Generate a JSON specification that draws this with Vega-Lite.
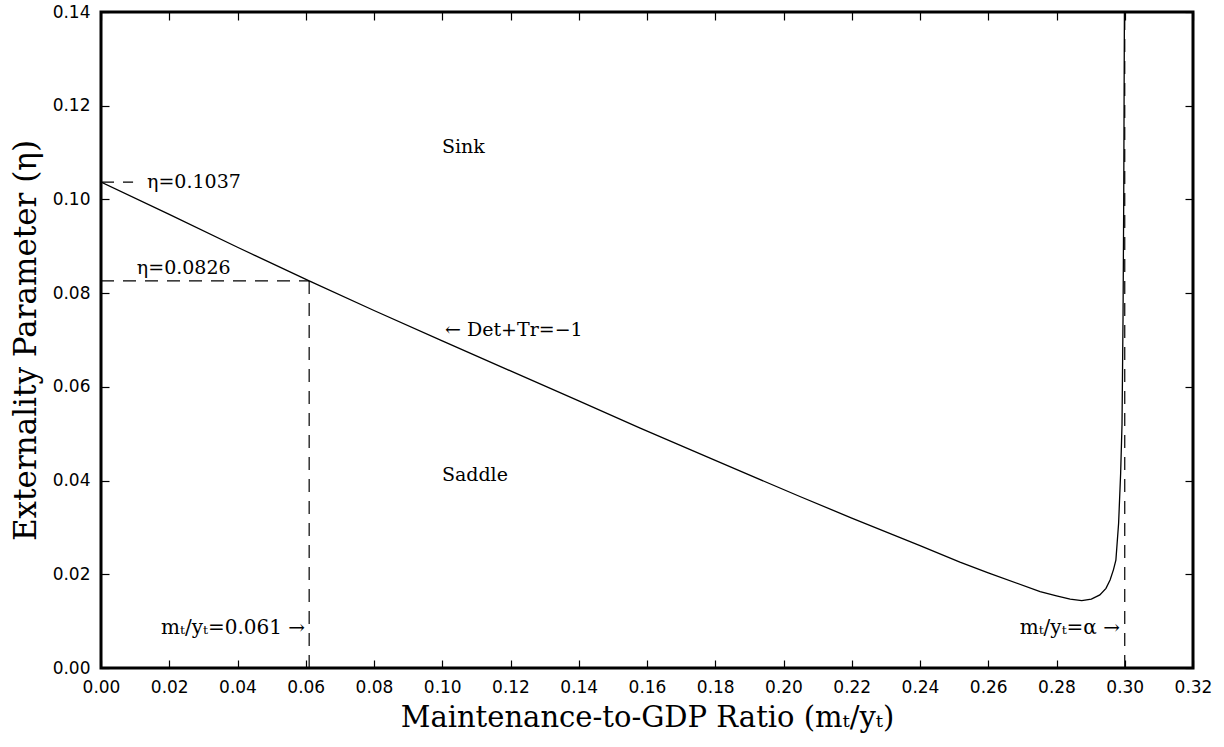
{
  "$schema": "https://vega.github.io/schema/vega-lite/v6.json",
  "width": 1092,
  "height": 656,
  "autosize": {"type": "none"},
  "padding": {"left": 101, "top": 12, "right": 31, "bottom": 79},
  "background": "white",
  "config": {
    "view": {"stroke": "black", "strokeWidth": 3},
    "axis": {
      "grid": false,
      "domain": false,
      "ticks": true,
      "tickColor": "black",
      "tickWidth": 1.2,
      "tickSize": -8,
      "labelFont": "DejaVu Sans",
      "labelFontSize": 17,
      "labelColor": "black",
      "titleFont": "DejaVu Serif",
      "titleFontWeight": "normal",
      "titleColor": "black",
      "titleFontSize": 29
    }
  },
  "datasets": {
    "curve": [
      {"ratio": 0.0, "eta": 0.1037},
      {"ratio": 0.02, "eta": 0.0968},
      {"ratio": 0.04, "eta": 0.0898},
      {"ratio": 0.061, "eta": 0.0826},
      {"ratio": 0.08, "eta": 0.0763},
      {"ratio": 0.10, "eta": 0.0698},
      {"ratio": 0.12, "eta": 0.0634},
      {"ratio": 0.14, "eta": 0.0570},
      {"ratio": 0.158, "eta": 0.0512},
      {"ratio": 0.18, "eta": 0.0443},
      {"ratio": 0.2048, "eta": 0.0366},
      {"ratio": 0.22, "eta": 0.0320},
      {"ratio": 0.24, "eta": 0.0261},
      {"ratio": 0.2517, "eta": 0.0226},
      {"ratio": 0.26, "eta": 0.0203},
      {"ratio": 0.2752, "eta": 0.0163},
      {"ratio": 0.28, "eta": 0.0154},
      {"ratio": 0.284, "eta": 0.0147},
      {"ratio": 0.2874, "eta": 0.0144},
      {"ratio": 0.2902, "eta": 0.0147},
      {"ratio": 0.2927, "eta": 0.0156},
      {"ratio": 0.2945, "eta": 0.0170},
      {"ratio": 0.2957, "eta": 0.0188},
      {"ratio": 0.2967, "eta": 0.0210},
      {"ratio": 0.2974, "eta": 0.0230},
      {"ratio": 0.2982, "eta": 0.0309},
      {"ratio": 0.2988, "eta": 0.0416},
      {"ratio": 0.2992, "eta": 0.0520},
      {"ratio": 0.2995, "eta": 0.0750},
      {"ratio": 0.2997, "eta": 0.1000},
      {"ratio": 0.2999, "eta": 0.1400}
    ],
    "guides": [
      {"x1": 0.061, "x2": 0.061, "y1": 0.0, "y2": 0.0826},
      {"x1": 0.0, "x2": 0.061, "y1": 0.0826, "y2": 0.0826},
      {"x1": 0.0, "x2": 0.0094, "y1": 0.1037, "y2": 0.1037},
      {"x1": 0.30, "x2": 0.30, "y1": 0.0, "y2": 0.14}
    ],
    "labelsLeft": [
      {"lx": 0.0999, "ly": 0.1112, "txt": "Sink"},
      {"lx": 0.1008, "ly": 0.0721, "txt": "← Det+Tr=−1"},
      {"lx": 0.0999, "ly": 0.0412, "txt": "Saddle"},
      {"lx": 0.0105, "ly": 0.0854, "txt": "η=0.0826"},
      {"lx": 0.0135, "ly": 0.1037, "txt": "η=0.1037"}
    ],
    "labelsRight": [
      {"lx": 0.0598, "ly": 0.0085, "txt": "mₜ/yₜ=0.061 →"},
      {"lx": 0.2986, "ly": 0.0085, "txt": "mₜ/yₜ=α →"}
    ]
  },
  "layer": [
    {
      "data": {"name": "curve"},
      "mark": {"type": "line", "color": "black", "strokeWidth": 1.3, "clip": true},
      "encoding": {
        "x": {
          "field": "ratio", "type": "quantitative",
          "scale": {"domain": [0, 0.32], "nice": false, "zero": false},
          "axis": {
            "orient": "bottom",
            "values": [0, 0.02, 0.04, 0.06, 0.08, 0.10, 0.12, 0.14, 0.16, 0.18, 0.20, 0.22, 0.24, 0.26, 0.28, 0.30, 0.32],
            "format": ".2f",
            "title": "Maintenance-to-GDP Ratio (mₜ/yₜ)",
            "labelPadding": 19,
            "titlePadding": 8,
            "labelFlush": false,
            "labelOverlap": false
          }
        },
        "y": {
          "field": "eta", "type": "quantitative",
          "scale": {"domain": [0, 0.14], "nice": false, "zero": false},
          "axis": {
            "orient": "left",
            "values": [0, 0.02, 0.04, 0.06, 0.08, 0.10, 0.12, 0.14],
            "format": ".2f",
            "title": "Externality Parameter (η)",
            "titleFontSize": 31,
            "labelPadding": 19,
            "titlePadding": 10,
            "labelFlush": false,
            "labelOverlap": false
          }
        }
      }
    },
    {
      "data": {"name": "guides"},
      "mark": {"type": "rule", "color": "black", "strokeWidth": 1.2, "strokeDash": [13, 9]},
      "encoding": {
        "x": {
          "field": "x1", "type": "quantitative",
          "axis": {
            "orient": "top", "labels": false, "title": null,
            "values": [0, 0.02, 0.04, 0.06, 0.08, 0.10, 0.12, 0.14, 0.16, 0.18, 0.20, 0.22, 0.24, 0.26, 0.28, 0.30, 0.32]
          }
        },
        "x2": {"field": "x2"},
        "y": {
          "field": "y1", "type": "quantitative",
          "axis": {
            "orient": "right", "labels": false, "title": null,
            "values": [0, 0.02, 0.04, 0.06, 0.08, 0.10, 0.12, 0.14]
          }
        },
        "y2": {"field": "y2"}
      }
    },
    {
      "data": {"name": "labelsLeft"},
      "mark": {"type": "text", "font": "DejaVu Serif", "fontSize": 19, "align": "left", "baseline": "middle", "color": "black"},
      "encoding": {
        "x": {"field": "lx", "type": "quantitative", "axis": null},
        "y": {"field": "ly", "type": "quantitative", "axis": null},
        "text": {"field": "txt"}
      }
    },
    {
      "data": {"name": "labelsRight"},
      "mark": {"type": "text", "font": "DejaVu Serif", "fontSize": 20, "align": "right", "baseline": "middle", "color": "black"},
      "encoding": {
        "x": {"field": "lx", "type": "quantitative", "axis": null},
        "y": {"field": "ly", "type": "quantitative", "axis": null},
        "text": {"field": "txt"}
      }
    }
  ],
  "resolve": {"axis": {"x": "independent", "y": "independent"}}
}
